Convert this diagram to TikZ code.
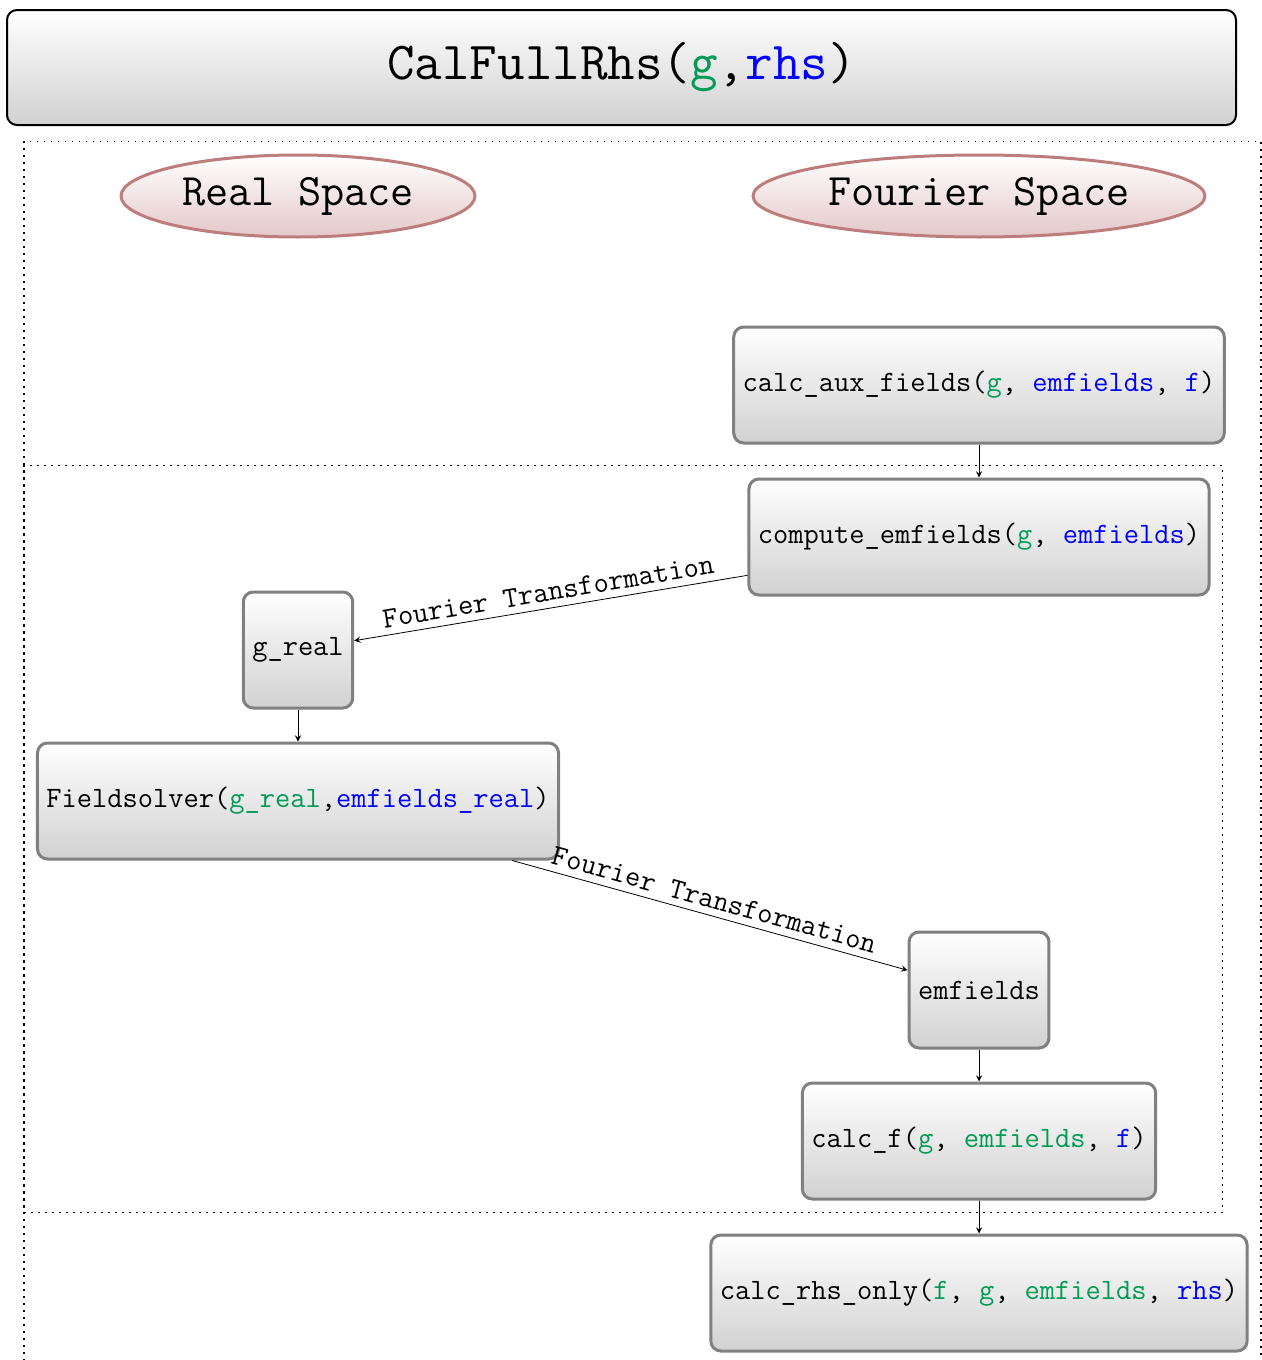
\documentclass[tikz,border=0pt]{standalone}
\usetikzlibrary{shapes.geometric,fit}
\definecolor{vgreen}{RGB}{0,155,85}
\definecolor{ellborder}{RGB}{190,125,125}
\definecolor{ellfill}{RGB}{228,200,200}
\newcommand{\gv}[1]{\textcolor{vgreen}{#1}}
\newcommand{\bv}[1]{\textcolor{blue}{#1}}
\begin{document}
\begin{tikzpicture}[x=0.5pt,y=-0.5pt,>=stealth,line join=round,font=\ttfamily\fontsize{14.8}{17}\selectfont,
	box/.style={draw=gray,line width=1.5pt,rounded corners=5pt,top color=white,bottom color=black!18,minimum height=58pt,inner xsep=4.5pt},
	space/.style={ellipse,draw=ellborder,line width=1.5pt,top color=white,bottom color=ellfill,minimum height=41pt,font=\ttfamily\fontsize{22.5}{26}\selectfont},
	frame/.style={draw,line width=0.9pt,dash pattern=on 0.9pt off 2.6pt,inner sep=6pt}]
	\useasboundingbox (0,0) rectangle (1262,1360);
	\node[box,draw=black,line width=1pt,minimum width=614.5pt,minimum height=57.5pt,font=\ttfamily\fontsize{26.75}{30}\selectfont] (title) at (621.5,67.5) {CalFullRhs(\gv{g},\bv{rhs})};
	\node[space,minimum width=177pt] (real) at (298,196) {Real Space};
	\node[space,minimum width=226pt] (fourier) at (979,196) {Fourier Space};
	\node[box] (aux) at (979,385) {calc\_aux\_fields(\gv{g}, \bv{emfields}, \bv{f})};
	\node[box] (emf) at (979,537) {compute\_emfields(\gv{g}, \bv{emfields})};
	\node[box] (greal) at (298,650) {g\_real};
	\node[box] (solver) at (298,801) {Fieldsolver(\gv{g\_real},\bv{emfields\_real})};
	\node[box] (fields) at (979,990) {emfields};
	\node[box] (calcf) at (979,1141) {calc\_f(\gv{g}, \gv{emfields}, \bv{f})};
	\node[box] (rhs) at (979,1293) {calc\_rhs\_only(\gv{f}, \gv{g}, \gv{emfields}, \bv{rhs})};
	\node[frame,fit=(real)(fourier)(aux)(solver)(rhs)] (outer) {};
	\node[frame,fit=(emf)(greal)(solver)(fields)(calcf)] (inner) {};
	\draw[->] (aux)--(emf);
	\draw[<-] (greal)-- node[above,sloped]{Fourier Transformation} (emf);
	\draw[->] (greal)--(solver);
	\draw[->] (solver)-- node[above,sloped]{Fourier Transformation} (fields);
	\foreach \a/\b in {fields/calcf,calcf/rhs}
		\draw[->] (\a)--(\b);
\end{tikzpicture}
\end{document}
